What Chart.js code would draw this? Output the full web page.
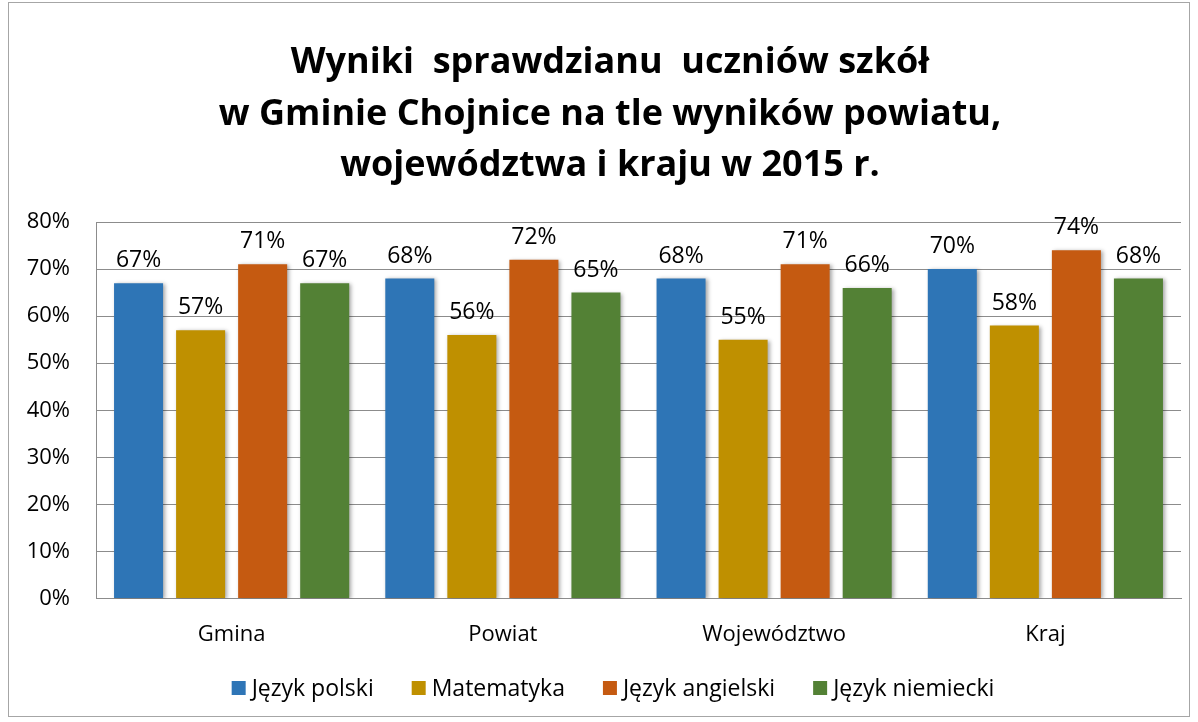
<!DOCTYPE html>
<html>
<head>
<meta charset="utf-8">
<script src="https://cdn.jsdelivr.net/npm/chart.js@4/dist/chart.umd.min.js"></script>
<style>
    html, body { margin: 0; padding: 0; background: #fff; }
    #wrap { width: 1198px; height: 722px; position: relative; }
</style>
</head>
<body>
<div id="wrap"><canvas id="chart" width="1198" height="722"></canvas></div>
<script>
const categories = ["Gmina", "Powiat", "Województwo", "Kraj"];
const seriesNames = ["Język polski", "Matematyka", "Język angielski", "Język niemiecki"];
const seriesColors = ["#2E75B6", "#BF9000", "#C55A11", "#538135"];
const polski = [67, 68, 68, 70];
const matematyka = [57, 56, 55, 58];
const angielski = [71, 72, 71, 74];
const niemiecki = [67, 65, 66, 68];
const titleLines = ["Wyniki  sprawdzianu  uczniów szkół", "w Gminie Chojnice na tle wyników powiatu,", "województwa i kraju w 2015 r."];

const FONT = "'Open Sans', 'Noto Sans', sans-serif";

const frame = {
    id: "frame",
    beforeDraw(chart) {
        const ctx = chart.ctx;
        ctx.save();
        ctx.fillStyle = "#fff";
        ctx.fillRect(0, 0, chart.width, chart.height);
        ctx.strokeStyle = "#a6a6a6";
        ctx.lineWidth = 1;
        ctx.strokeRect(8.5, 2.5, chart.width - 17, chart.height - 8);
        ctx.restore();
    }
};

// title drawn by hand so it can sit off the plot's centre like the original
const chartTitle = {
    id: "chartTitle",
    afterDraw(chart) {
        const ctx = chart.ctx;
        ctx.save();
        ctx.font = `bold 36px ${FONT}`;
        ctx.fillStyle = "#000";
        ctx.textAlign = "center";
        ctx.textBaseline = "middle";
        titleLines.forEach((line, i) => {
            ctx.fillText(line, 610, 63 + i * 51.5);
        });
        ctx.restore();
    }
};

// legend with the tighter box/text gap and wider item spacing of the original
const bottomLegend = {
    id: "bottomLegend",
    afterDraw(chart) {
        const ctx = chart.ctx;
        const box = 14, boxGap = 6, itemGap = 38, centerX = 613, centerY = 688;
        ctx.save();
        ctx.font = `23px ${FONT}`;
        ctx.textBaseline = "middle";
        ctx.textAlign = "left";
        const items = chart.data.datasets.map(ds => ({
            text: ds.label,
            color: ds.backgroundColor,
            width: box + boxGap + ctx.measureText(ds.label).width
        }));
        const total = items.reduce((sum, item) => sum + item.width, 0) + itemGap * (items.length - 1);
        let x = centerX - total / 2;
        items.forEach(item => {
            ctx.fillStyle = item.color;
            ctx.fillRect(x, centerY - box / 2, box, box);
            ctx.fillStyle = "#000";
            ctx.fillText(item.text, x + box + boxGap, centerY + 1);
            x += item.width + itemGap;
        });
        ctx.restore();
    }
};

const barShadow = {
    id: "barShadow",
    beforeDatasetsDraw(chart) {
        const ctx = chart.ctx;
        ctx.save();
        ctx.shadowColor = "rgba(0,0,0,0.35)";
        ctx.shadowBlur = 4;
        ctx.shadowOffsetX = 2;
        ctx.shadowOffsetY = 1;
    },
    afterDatasetsDraw(chart) {
        chart.ctx.restore();
    }
};

const valueLabels = {
    id: "valueLabels",
    afterDatasetsDraw(chart) {
        const ctx = chart.ctx;
        ctx.save();
        ctx.font = `23px ${FONT}`;
        ctx.fillStyle = "#000";
        ctx.textAlign = "center";
        ctx.textBaseline = "bottom";
        chart.data.datasets.forEach((ds, i) => {
            chart.getDatasetMeta(i).data.forEach((bar, j) => {
                ctx.fillText(`${ds.data[j]}%`, bar.x, bar.y - 11);
            });
        });
        ctx.restore();
    }
};

new Chart(document.getElementById("chart"), {
    type: "bar",
    data: {
        labels: categories,
        datasets: [polski, matematyka, angielski, niemiecki].map((values, i) => ({
            label: seriesNames[i],
            data: values,
            backgroundColor: seriesColors[i],
            borderWidth: 0,
            categoryPercentage: 0.915,
            barPercentage: 0.79
        }))
    },
    options: {
        responsive: false,
        animation: false,
        layout: { padding: { left: 0, right: 17, top: 222, bottom: 59 } },
        plugins: {
            title: { display: false },
            legend: { display: false },
            tooltip: { enabled: false }
        },
        scales: {
            x: {
                grid: { display: false },
                border: { color: "#8c8c8c" },
                ticks: { color: "#000", font: { family: FONT, size: 22 }, padding: 15 }
            },
            y: {
                min: 0,
                max: 80,
                afterFit(scale) { scale.width = 96; },
                ticks: {
                    stepSize: 10,
                    color: "#000",
                    font: { family: FONT, size: 22 },
                    padding: 26,
                    callback: v => `${v}%`
                },
                grid: { color: "#8c8c8c", drawTicks: false },
                border: { color: "#8c8c8c" }
            }
        }
    },
    plugins: [frame, chartTitle, bottomLegend, barShadow, valueLabels]
});
</script>
</body>
</html>
